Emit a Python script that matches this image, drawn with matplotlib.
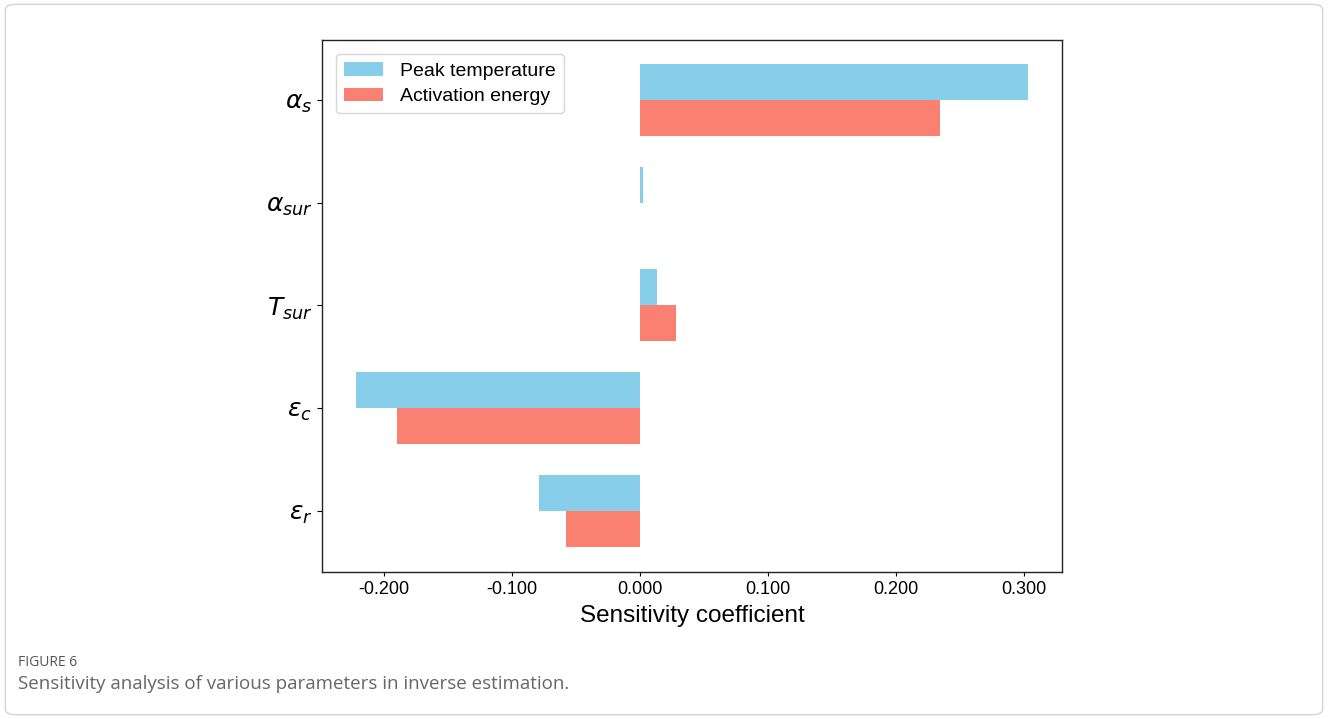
import numpy as np
import matplotlib.pyplot as plt
from matplotlib.patches import FancyBboxPatch

plt.rcParams["font.family"] = ["Liberation Sans", "DejaVu Sans"]
plt.rcParams["mathtext.fontset"] = "dejavusans"

# ===== data =====
params = [r'$\alpha_s$', r'$\alpha_{sur}$', r'$T_{sur}$', r'$\varepsilon_c$', r'$\varepsilon_r$']
peak_temp = [0.303, 0.002, 0.013, -0.222, -0.079]
activation = [0.234, 0.0, 0.028, -0.190, -0.058]
xticks = [-0.2, -0.1, 0.0, 0.1, 0.2, 0.3]

c_blue = '#87CEEB'
c_red = '#FA8072'

fig = plt.figure(figsize=(13.28, 7.19), dpi=100)

# outer rounded frame
frame = FancyBboxPatch((0.004, 0.006), 0.992, 0.988,
                       boxstyle="round,pad=0,rounding_size=0.008",
                       transform=fig.transFigure, facecolor='none',
                       edgecolor='#d4d4d4', linewidth=1.0, zorder=-1)
fig.patches.append(frame)

ax = fig.add_axes([0.2425, 0.2045, 0.5572, 0.7399])

y = np.arange(len(params))
h = 0.35
ax.barh(y - h / 2, peak_temp, height=h, color=c_blue, label='Peak temperature')
ax.barh(y + h / 2, activation, height=h, color=c_red, label='Activation energy')

ax.set_yticks(y)
ax.set_yticklabels(params, fontsize=18)
ax.set_ylim(len(params) - 0.41, -0.58)

ax.set_xticks(xticks)
ax.set_xticklabels([f'{v:.3f}' for v in xticks], fontsize=13)
ax.set_xlim(-0.2484, 0.3297)
ax.set_xlabel('Sensitivity coefficient', fontsize=17.5, labelpad=5)

ax.tick_params(axis='x', length=3, width=0.8, pad=3.5)
ax.tick_params(axis='y', length=3.5, width=0.8, pad=3.5)
for s in ax.spines.values():
    s.set_linewidth(1.0)
    s.set_color('#222222')

leg = ax.legend(loc='upper left', fontsize=14, frameon=True, fancybox=True,
                borderpad=0.4, handlelength=2.0, handleheight=0.7,
                handletextpad=0.9, labelspacing=0.4,
                bbox_to_anchor=(0.006, 0.991))
leg.get_frame().set_edgecolor('#cccccc')

# caption
fig.text(0.0136, 0.079, 'FIGURE 6', fontsize=10, color='#555555', va='center',
         family=['Open Sans', 'DejaVu Sans'])
fig.text(0.0136, 0.0487, 'Sensitivity analysis of various parameters in inverse estimation.',
         fontsize=13.5, color='#666666', va='center', family=['Open Sans', 'DejaVu Sans'])

fig.savefig('out.png', dpi=100)
